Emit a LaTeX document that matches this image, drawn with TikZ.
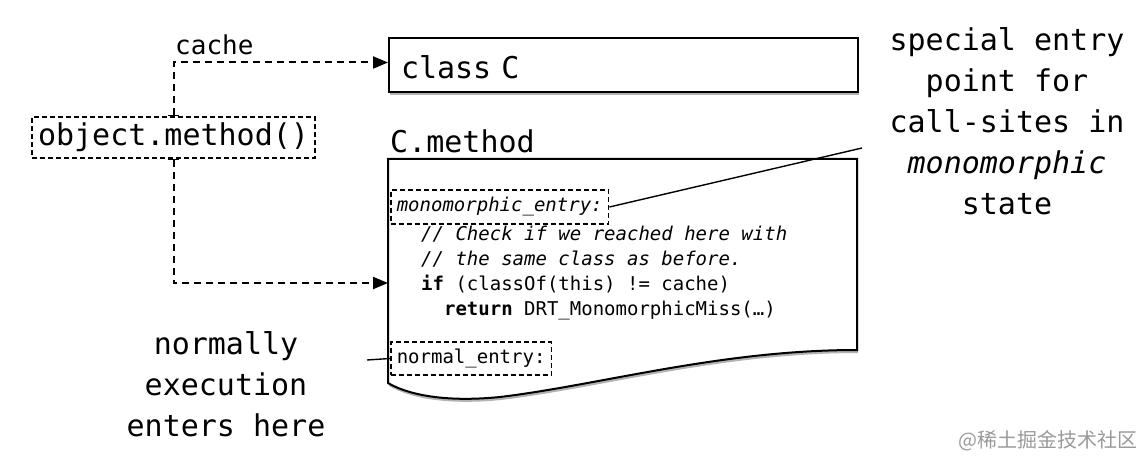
\documentclass[tikz,border=0pt]{standalone}
\usepackage{fontspec}
\setmonofont{DejaVu Sans Mono}
\newfontfamily\cjk{Noto Sans CJK SC}
\usetikzlibrary{positioning}
\usetikzlibrary{arrows.meta}
\usetikzlibrary{shadows}

\tikzset{
  big/.style={font=\ttfamily\fontsize{30}{41}\selectfont},
  small/.style={font=\ttfamily\fontsize{19}{25}\selectfont},
  softshadow/.style={drop shadow={shadow xshift=1pt, shadow yshift=-3pt, opacity=0.3, fill=black}},
  solidbox/.style={draw, line width=2pt, fill=white, softshadow},
  dashbox/.style={draw, line width=1.5pt, dash pattern=on 5pt off 3pt, inner xsep=6pt},
  link/.style={line width=2pt, dash pattern=on 7pt off 5pt, {Bar[width=11pt,line width=1.6pt]}-{Triangle[length=15pt,width=12pt]}},
  pointer/.style={line width=1.4pt},
}

\begin{document}
\begin{tikzpicture}[x=1pt, y=-1pt]
\useasboundingbox (0,0) rectangle (1146,468);

% class box and method body
\node[solidbox, big, anchor=north west, minimum width=469pt, minimum height=54pt, text width=445pt, inner xsep=12pt, text height=28pt, text depth=0pt, align=left] (classC) at (388,37) {class C};
\node[big, anchor=base west, inner sep=0pt] (methodlbl) at (390,153) {C.method};
\draw[line width=2pt, fill=white, softshadow] (388,159) -- (857,159) -- (857,350)
  .. controls (720,350) and (600,385) .. (500,397)
  .. controls (440,403) and (405,393) .. (388,383) -- cycle;

% entry points
\node[dashbox, small, anchor=west, minimum height=34pt] (mono) at (390,207) {\itshape monomorphic\_entry:};
\node[small, align=left, anchor=north west, inner sep=0pt] (code) at (421,226) {%
{\itshape // Check if we reached here with}\\
{\itshape // the same class as before.}\\
{\bfseries if} (classOf(this) != cache)\\
\hphantom{xx}{\bfseries return} DRT\_MonomorphicMiss(…)};
\node[dashbox, small, anchor=west, minimum height=33pt] (normal) at (390,358.5) {normal\_entry:};

% call site
\node[dashbox, big, minimum height=41pt] (obj) at (173.5,137.5) {object.method()};
\node[font=\ttfamily\fontsize{26}{30}\selectfont, anchor=base west, inner sep=0pt] (cachelbl) at (175,55) {cache};
\coordinate (docin) at (388,283);
\draw[link] (obj.north) |- ([yshift=2.5pt]classC.west);
\draw[link] (obj.south) |- (docin);

% annotations
\node[big, align=center] (special) at (1007,121) {special entry\\point for\\call-sites in\\{\itshape monomorphic}\\state};
\node[big, align=center] (normally) at (226,384) {normally\\execution\\enters here};
\coordinate (monoend) at (862,148);
\coordinate (normalend) at (367,360);
\draw[pointer] (mono.east) -- (monoend);
\draw[pointer] (normal.west) -- (normalend);

\node[font=\cjk\fontsize{20}{20}\selectfont, text=black!40] (mark) at (1048,441) {@稀土掘金技术社区};
\end{tikzpicture}
\end{document}
